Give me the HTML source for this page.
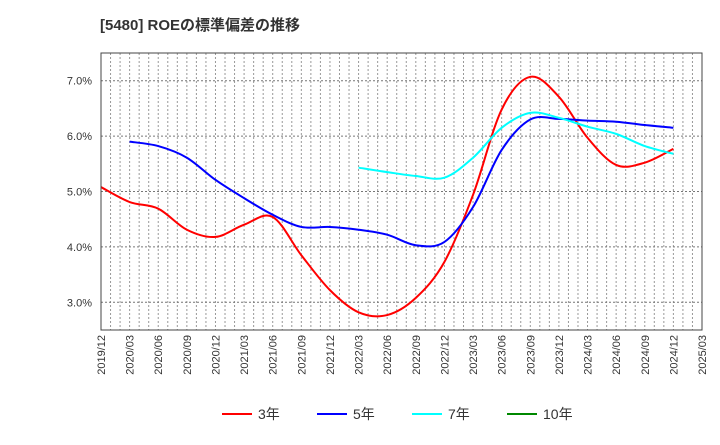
<!DOCTYPE html>
<html><head><meta charset="utf-8"><style>
body{margin:0;background:#fff;font-family:"Liberation Sans","Noto Sans CJK JP",sans-serif;}
svg text{font-family:"Liberation Sans","Noto Sans CJK JP",sans-serif;}
</style></head><body>
<svg id="c" width="720" height="440" xmlns="http://www.w3.org/2000/svg">
<text x="100" y="30" font-size="15" font-weight="bold" fill="#333">[5480]  ROEの標準偏差の推移</text>
<g id="grid"></g><g id="series"></g><g id="axes"></g><g id="legend"></g>
</svg>
<script>
const xLabels=["2019/12","2020/03","2020/06","2020/09","2020/12","2021/03","2021/06","2021/09","2021/12","2022/03","2022/06","2022/09","2022/12","2023/03","2023/06","2023/09","2023/12","2024/03","2024/06","2024/09","2024/12","2025/03"];
const yTicks=[3,4,5,6,7];
const s3=[5.08,4.81,4.69,4.31,4.18,4.40,4.54,3.85,3.22,2.82,2.77,3.08,3.73,4.94,6.48,7.07,6.71,5.97,5.48,5.52,5.77];
const s5=[null,5.90,5.82,5.61,5.21,4.88,4.58,4.36,4.36,4.31,4.22,4.03,4.09,4.72,5.75,6.30,6.31,6.28,6.26,6.20,6.15];
const s7=[null,null,null,null,null,null,null,null,null,5.43,5.35,5.28,5.25,5.61,6.15,6.42,6.33,6.17,6.04,5.82,5.68];
const s10=[];
const L=101,R=702,T=53,B=330,yMin=2.5,yMax=7.5;
const xs=i=>L+(R-L)*i/63*3;
const xm=m=>L+(R-L)*m/63;
const ys=v=>B-(B-T)*(v-yMin)/(yMax-yMin);
const NS="http://www.w3.org/2000/svg";
function mk(p,t,a){const e=document.createElementNS(NS,t);for(const k in a)e.setAttribute(k,a[k]);p.appendChild(e);return e;}
const g=document.getElementById('grid'),ax=document.getElementById('axes'),se=document.getElementById('series'),lg=document.getElementById('legend');
for(let m=1;m<63;m++){const l=mk(g,'line',{x1:xm(m),x2:xm(m),y1:T,y2:B,stroke:'#999','stroke-dasharray':'2,2','stroke-width':1});

}
yTicks.forEach(v=>{const l=mk(g,'line',{x1:L,x2:R,y1:ys(v),y2:ys(v),stroke:'#777','stroke-dasharray':'2,2','stroke-width':1});


const t=mk(ax,'text',{x:92,y:ys(v)+4,'text-anchor':'end','font-size':11,fill:'#333'});t.textContent=v.toFixed(1)+'%';

});
xLabels.forEach((s,i)=>{const x=xs(i)+4;const t=mk(ax,'text',{x:x,y:335,transform:`rotate(-90 ${x} 335)`,'text-anchor':'end','font-size':11,fill:'#333'});t.textContent=s;

});
const fr=mk(ax,'rect',{x:L,y:T,width:R-L,height:B-T,fill:'none',stroke:'#444','stroke-width':1});


function path(arr){const p=[];arr.forEach((v,i)=>{if(v!=null)p.push([xs(i),ys(v)]);});if(p.length<2)return '';
let d=`M${p[0][0]},${p[0][1]}`;for(let i=0;i<p.length-1;i++){const p0=p[i-1]||p[i],p1=p[i],p2=p[i+1],p3=p[i+2]||p2;
d+=` C${p1[0]+(p2[0]-p0[0])/6},${p1[1]+(p2[1]-p0[1])/6} ${p2[0]-(p3[0]-p1[0])/6},${p2[1]-(p3[1]-p1[1])/6} ${p2[0]},${p2[1]}`;}return d;}
[[s3,'#f00','3年','series-3y'],[s5,'#00f','5年','series-5y'],[s7,'#0ff','7年','series-7y'],[s10,'#080','10年','series-10y']].forEach((s,k)=>{
const d=path(s[0]);if(d){const p=mk(se,'path',{d:d,fill:'none',stroke:s[1],'stroke-width':2});

}
const lx=[222,317,412,507][k];
const l=mk(lg,'line',{x1:lx,x2:lx+30,y1:414,y2:414,stroke:s[1],'stroke-width':2});


const t=mk(lg,'text',{x:lx+36,y:419,'font-size':14,fill:'#333'});t.textContent=s[2];

});
</script>
</body></html>
